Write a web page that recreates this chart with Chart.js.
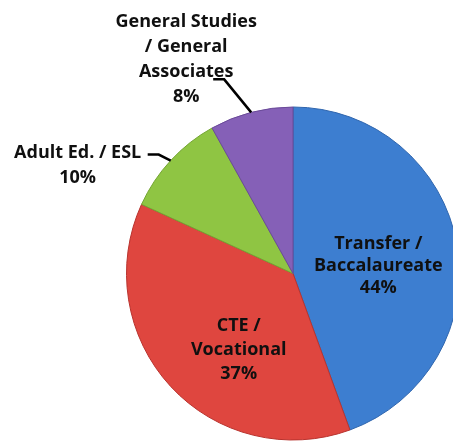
<!DOCTYPE html>
<html>
<head>
<meta charset="utf-8">
<script src="https://cdn.jsdelivr.net/npm/chart.js@4"></script>
<style>
  body { margin: 0; background: #fff; overflow: hidden; }
  canvas { display: block; }
</style>
</head>
<body>
<canvas id="myChart" width="460" height="445"></canvas>
<script>
// categories (split into lines the way they are printed) and shares in %
const categories = [
  ['Transfer /', 'Baccalaureate'],
  ['CTE /', 'Vocational'],
  ['Adult Ed. / ESL'],
  ['General Studies', '/ General', 'Associates']
];
const values = [44, 37, 10, 8];
const colors = ['#3d7ed0', '#df463f', '#8fc543', '#8560b7'];
const edgeColors = ['#2f65ad', '#b8332e', '#74a533', '#6a4a98'];

// radial shade, a bit lighter inside, darker on the rim
function shade(c) {
  const i = c.dataIndex;
  const arc = c.chart.getDatasetMeta(0).data[i];
  if (!arc || !arc.outerRadius) return colors[i];
  const g = c.chart.ctx.createRadialGradient(arc.x, arc.y, 0, arc.x, arc.y, arc.outerRadius);
  g.addColorStop(0, colors[i]);
  g.addColorStop(0.9, colors[i]);
  g.addColorStop(1, edgeColors[i]);
  return g;
}

// label drawing: inside labels sit on the slice, outside ones get a leader line
const sliceLabels = {
  id: 'sliceLabels',
  afterDatasetsDraw(chart) {
    const ctx = chart.ctx;
    const meta = chart.getDatasetMeta(0);
    const lineH = 25;
    ctx.save();
    ctx.font = 'bold 18px "Open Sans"';
    ctx.fillStyle = '#101010';
    ctx.textAlign = 'center';
    ctx.textBaseline = 'middle';
    ctx.strokeStyle = '#000';
    ctx.lineWidth = 2.5;
    meta.data.forEach((arc, i) => {
      const lines = categories[i].concat(values[i] + '%');
      const mid = (arc.startAngle + arc.endAngle) / 2;
      const R = arc.outerRadius;
      let cx, cy;
      if (i < 2) {
        // inside the slice
        const frac = i == 0 ? 0.52 : 0.55;
        const off = i == 0 ? [0, 7] : [13, 14];
        const gap = i == 0 ? 22 : 24;
        cx = arc.x + Math.cos(mid) * R * frac + off[0];
        cy = arc.y + Math.sin(mid) * R * frac + off[1];
        const top = cy - (lines.length - 1) * gap / 2;
        lines.forEach((t, k) => ctx.fillText(t, cx, top + k * gap));
      } else {
        const ex = arc.x + Math.cos(mid) * R;
        const ey = arc.y + Math.sin(mid) * R;
        let elbow, end, textX, firstY;
        if (i == 2) {
          elbow = [ex - 12, ey - 6];
          end = [elbow[0] - 11, elbow[1]];
          textX = end[0] - 70;
          firstY = end[1] - 2;
        } else {
          elbow = [ex - 27, ey - 33];
          end = [elbow[0] - 11, elbow[1]];
          textX = end[0] - 27;
          firstY = end[1] - 57;
        }
        ctx.beginPath();
        ctx.moveTo(ex, ey);
        ctx.lineTo(elbow[0], elbow[1]);
        ctx.lineTo(end[0], end[1]);
        ctx.stroke();
        lines.forEach((t, k) => ctx.fillText(t, textX, firstY + k * lineH));
      }
    });
    ctx.restore();
  }
};

let myChart = document.getElementById('myChart').getContext('2d');
let chart = new Chart(myChart, {
  type: 'pie',
  data: {
    labels: categories,
    datasets: [{
      data: values,
      backgroundColor: shade,
      borderColor: edgeColors,
      borderWidth: 1
    }]
  },
  options: {
    responsive: false,
    animation: false,
    layout: {
      padding: { left: 126, right: 0, top: 106, bottom: 4 }
    },
    plugins: {
      legend: { display: false },
      tooltip: { enabled: false }
    }
  },
  plugins: [sliceLabels]
});
</script>
</body>
</html>
